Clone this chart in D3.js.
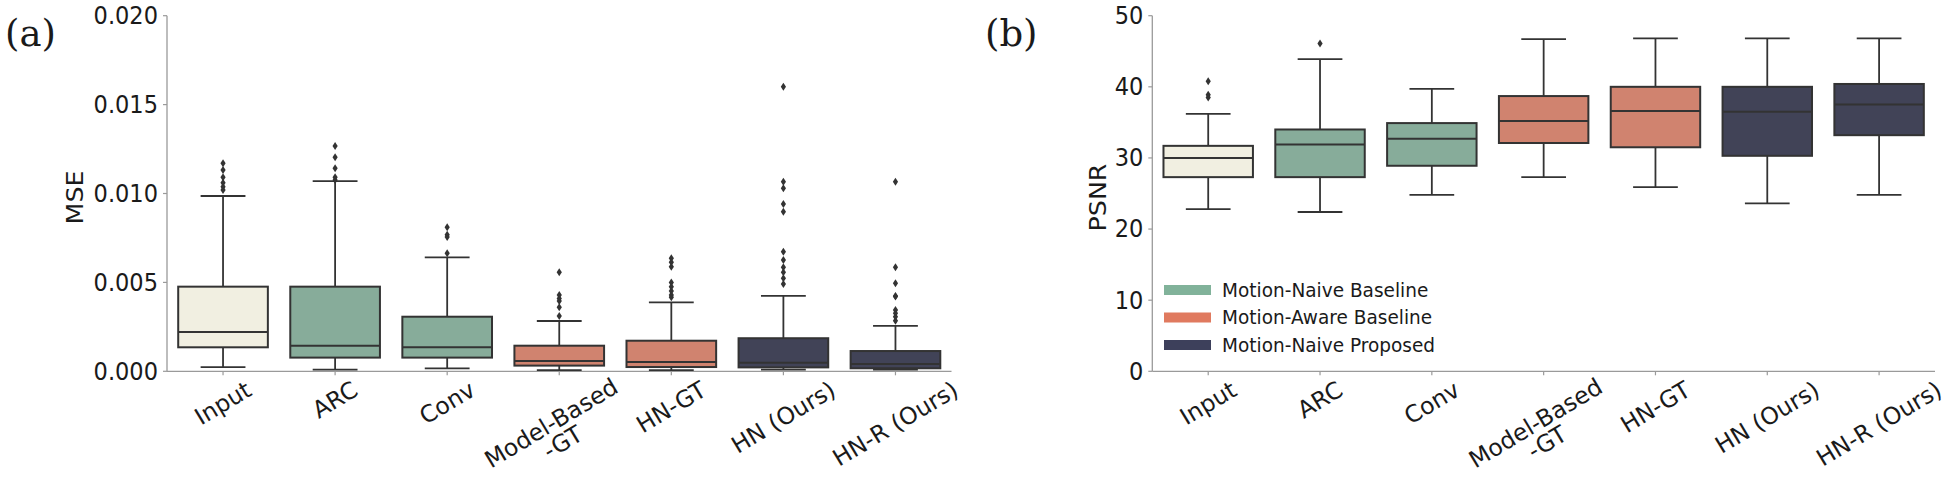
<!DOCTYPE html>
<html>
<head>
<meta charset="utf-8">
<script src="https://cdn.jsdelivr.net/npm/d3@7"></script>
<style>
  html, body { margin: 0; padding: 0; background: #fff; }
  svg { display: block; }
  text { font-family: "DejaVu Sans", sans-serif; fill: #1a1a1a; }
</style>
</head>
<body>
<svg id="chart" width="1950" height="479"></svg>
<script>
// ---------------- DATA ----------------
const categories = ["Input", "ARC", "Conv", "Model-Based\n-GT", "HN-GT", "HN (Ours)", "HN-R (Ours)"];
const categoryGroup = ["input", "naive", "naive", "aware", "aware", "proposed", "proposed"];

const legendLabels = ["Motion-Naive Baseline", "Motion-Aware Baseline", "Motion-Naive Proposed"];
const legendGroups = ["naive", "aware", "proposed"];

const mseTicks = [0, 0.005, 0.010, 0.015, 0.020];
const mseLow    = [0.00024, 0.00009, 0.00017, 0.00007, 0.00007, 0.00009, 0.00009];
const mseQ1     = [0.00135, 0.00077, 0.00077, 0.00032, 0.00024, 0.00022, 0.00017];
const mseMedian = [0.00221, 0.00144, 0.00135, 0.00058, 0.00052, 0.00048, 0.00041];
const mseQ3     = [0.00476, 0.00476, 0.00307, 0.00144, 0.00172, 0.00186, 0.00114];
const mseHigh   = [0.00986, 0.01070, 0.00641, 0.00283, 0.00388, 0.00424, 0.00255];
const mseOutliers = [
  [0.0117, 0.01132, 0.01091, 0.01061, 0.01038, 0.0102],
  [0.01267, 0.01204, 0.01142, 0.01091, 0.01076],
  [0.0081, 0.00768, 0.00755, 0.00664],
  [0.00557, 0.00429, 0.0041, 0.00396, 0.0036, 0.00311],
  [0.00636, 0.00613, 0.00588, 0.005, 0.00476, 0.00452, 0.00429, 0.00416],
  [0.01601, 0.01066, 0.01029, 0.00941, 0.00898, 0.00673, 0.00626, 0.00585, 0.00557, 0.00523, 0.00491],
  [0.01066, 0.00585, 0.00495, 0.00424, 0.0042, 0.00345, 0.00326, 0.00307, 0.00285]
];

const psnrTicks = [0, 10, 20, 30, 40, 50];
const psnrLow    = [22.8, 22.4, 24.8, 27.3, 25.9, 23.6, 24.8];
const psnrQ1     = [27.3, 27.3, 28.9, 32.1, 31.5, 30.3, 33.2];
const psnrMedian = [30.0, 31.9, 32.7, 35.2, 36.6, 36.5, 37.5];
const psnrQ3     = [31.7, 34.0, 34.9, 38.7, 40.0, 40.0, 40.4];
const psnrHigh   = [36.2, 43.9, 39.7, 46.7, 46.8, 46.8, 46.8];
const psnrOutliers = [[40.8, 38.9, 38.5], [46.1], [], [], [], [], []];

// ---------------- STYLE ----------------
const baseColor = { input: "#F4F1DE", naive: "#81B29A", aware: "#E07A5F", proposed: "#3D405B" };
function desat(c, f) { const h = d3.hsl(c); h.s *= f; return h.formatHex(); }
const edge = "#333333";
const spine = "#9a9a9a";
const SY = 1.1;        // vertical stretch of text (figure aspect)
const tickFont = 22.5;
const xTickFont = 23.5;
const ROT = -31;

const svg = d3.select("#chart");

function drawPanel(cfg) {
  const g = svg.append("g");
  const x = d3.scaleBand().domain(categories).range([cfg.x0, cfg.x1]).paddingInner(0).paddingOuter(0);
  const y = d3.scaleLinear().domain(cfg.domain).range([cfg.yBot, cfg.yTop]);
  const bw = x.bandwidth() * 0.8;
  const cx = c => x(c) + x.bandwidth() / 2;

  // spines
  g.append("line").attr("x1", cfg.x0).attr("x2", cfg.x0).attr("y1", y(cfg.domain[0])).attr("y2", y(cfg.domain[1]))
    .attr("stroke", spine).attr("stroke-width", 1.3);
  g.append("line").attr("x1", cfg.x0).attr("x2", cfg.x1).attr("y1", y(cfg.domain[0])).attr("y2", y(cfg.domain[0]))
    .attr("stroke", spine).attr("stroke-width", 1.3);

  // y ticks
  cfg.ticks.forEach(t => {
    g.append("line").attr("x1", cfg.x0 - 4).attr("x2", cfg.x0).attr("y1", y(t)).attr("y2", y(t))
      .attr("stroke", spine).attr("stroke-width", 1.2);
    g.append("text").attr("text-anchor", "end").attr("dominant-baseline", "central")
      .attr("font-size", tickFont)
      .attr("transform", `translate(${cfg.x0 - 9},${y(t)}) scale(1,${SY})`)
      .text(cfg.fmt(t));
  });

  // x ticks + labels
  categories.forEach(c => {
    g.append("line").attr("x1", cx(c)).attr("x2", cx(c)).attr("y1", y(cfg.domain[0])).attr("y2", y(cfg.domain[0]) + 4)
      .attr("stroke", spine).attr("stroke-width", 1.2);
    const lines = c.split("\n");
    const lh = xTickFont * 0.95;
    const t = g.append("text").attr("text-anchor", "middle").attr("dominant-baseline", "central")
      .attr("font-size", xTickFont);
    const widths = [];
    lines.forEach((ln, i) => {
      const ts = t.append("tspan").attr("x", 0).attr("y", (i - (lines.length - 1) / 2) * lh).text(ln);
      widths.push(ts.node().getComputedTextLength());
    });
    const th = ROT * Math.PI / 180, s = Math.sin(th), co = Math.cos(th);
    let minX = 1e9, maxX = -1e9, minY = 1e9, maxY = -1e9;
    lines.forEach((ln, i) => {
      const yc = (i - (lines.length - 1) / 2) * lh;
      [[-widths[i] / 2, yc - 0.36 * xTickFont], [widths[i] / 2, yc - 0.36 * xTickFont],
       [-widths[i] / 2, yc + 0.36 * xTickFont], [widths[i] / 2, yc + 0.36 * xTickFont]].forEach(([px, py]) => {
        const rx = px * co - py * s, ry = px * s + py * co;
        minX = Math.min(minX, rx); maxX = Math.max(maxX, rx);
        minY = Math.min(minY, ry); maxY = Math.max(maxY, ry);
      });
    });
    const tx = cx(c) - (minX + maxX) / 2 - (lines.length > 1 ? 8 : 0);
    const ty = y(cfg.domain[0]) + 9 - minY - (lines.length > 1 ? 3 : 0);
    t.attr("transform", `translate(${tx},${ty}) rotate(${ROT})`);
  });

  // y label
  g.append("text").attr("text-anchor", "middle").attr("dominant-baseline", "central")
    .attr("font-size", 23)
    .attr("transform", `translate(${cfg.labelX},${(cfg.yTop + cfg.yBot) / 2 + 4}) scale(1,${SY}) rotate(-90)`)
    .text(cfg.label);

  // boxes
  categories.forEach((c, i) => {
    const xc = cx(c);
    const fill = desat(baseColor[categoryGroup[i]], 0.75);
    const bg = g.append("g");
    bg.append("line").attr("x1", xc).attr("x2", xc).attr("y1", y(cfg.q3[i])).attr("y2", y(cfg.high[i]))
      .attr("stroke", edge).attr("stroke-width", 1.8);
    bg.append("line").attr("x1", xc).attr("x2", xc).attr("y1", y(cfg.q1[i])).attr("y2", y(cfg.low[i]))
      .attr("stroke", edge).attr("stroke-width", 1.8);
    [cfg.high[i], cfg.low[i]].forEach(v => {
      bg.append("line").attr("x1", xc - bw / 4).attr("x2", xc + bw / 4).attr("y1", y(v)).attr("y2", y(v))
        .attr("stroke", edge).attr("stroke-width", 1.8);
    });
    bg.append("rect").attr("x", xc - bw / 2).attr("width", bw)
      .attr("y", y(cfg.q3[i])).attr("height", y(cfg.q1[i]) - y(cfg.q3[i]))
      .attr("fill", fill).attr("stroke", edge).attr("stroke-width", 2);
    bg.append("line").attr("x1", xc - bw / 2).attr("x2", xc + bw / 2)
      .attr("y1", y(cfg.median[i])).attr("y2", y(cfg.median[i]))
      .attr("stroke", edge).attr("stroke-width", 2);
    cfg.outliers[i].forEach(v => {
      const py = y(v);
      bg.append("path")
        .attr("d", `M${xc},${py - 4}L${xc + 2.6},${py}L${xc},${py + 4}L${xc - 2.6},${py}Z`)
        .attr("fill", edge);
    });
  });
  return { x, y };
}

drawPanel({
  x0: 167, x1: 951.5, yTop: 15.7, yBot: 371.3, domain: [0, 0.02], ticks: mseTicks,
  fmt: d3.format(".3f"), label: "MSE", labelX: 75,
  low: mseLow, q1: mseQ1, median: mseMedian, q3: mseQ3, high: mseHigh, outliers: mseOutliers
});
drawPanel({
  x0: 1152.3, x1: 1935, yTop: 15.7, yBot: 371.3, domain: [0, 50], ticks: psnrTicks,
  fmt: d3.format("d"), label: "PSNR", labelX: 1098,
  low: psnrLow, q1: psnrQ1, median: psnrMedian, q3: psnrQ3, high: psnrHigh, outliers: psnrOutliers
});

// legend
const lg = svg.append("g");
legendLabels.forEach((lab, i) => {
  const yc = 290 + i * 27.5;
  lg.append("rect").attr("x", 1164).attr("y", yc - 5).attr("width", 47).attr("height", 10)
    .attr("fill", baseColor[legendGroups[i]]);
  lg.append("text").attr("dominant-baseline", "central")
    .attr("font-size", 18.5)
    .attr("transform", `translate(1222,${yc}) scale(1,1.08)`).text(lab);
});

// panel letters
svg.append("text").attr("x", 5).attr("y", 46)
  .attr("font-size", 37).style("font-family", "'DejaVu Serif', serif").text("(a)");
svg.append("text").attr("x", 985).attr("y", 46)
  .attr("font-size", 37).style("font-family", "'DejaVu Serif', serif").text("(b)");
</script>
</body>
</html>
